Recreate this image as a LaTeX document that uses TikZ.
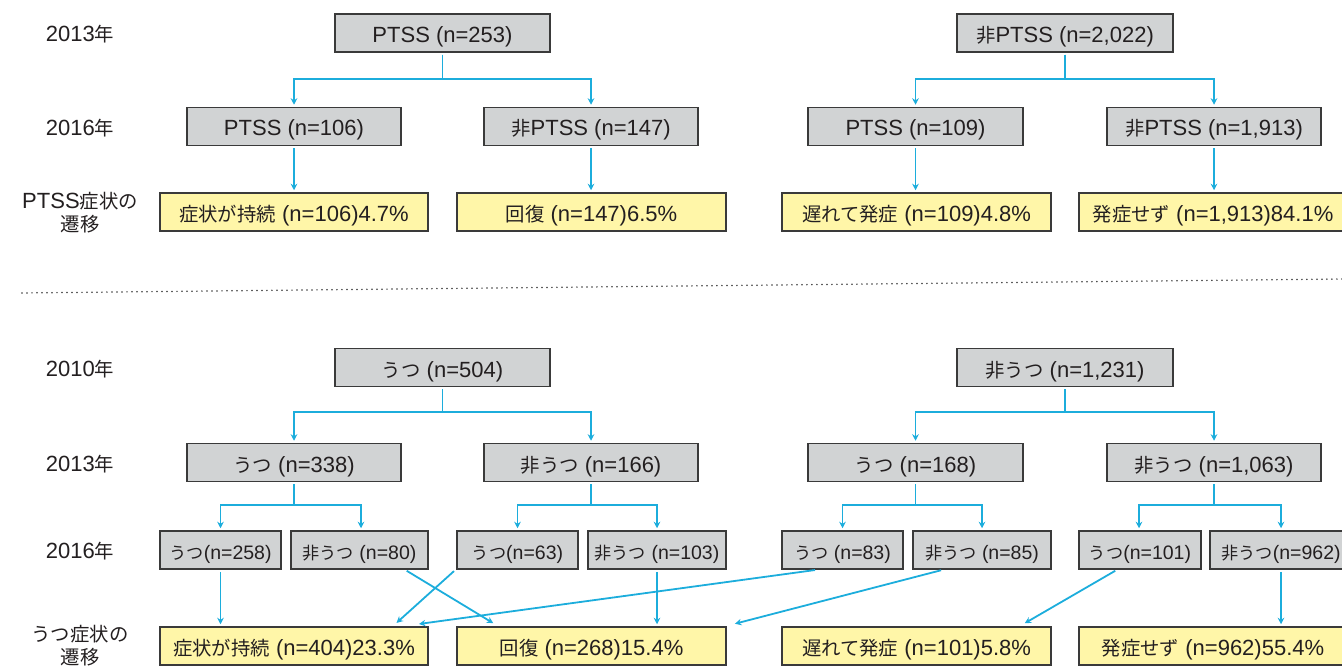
\documentclass[tikz,border=0pt]{standalone}
\usepackage{fontspec}
\setmainfont{Liberation Sans}
\newfontfamily\cjk{Noto Sans CJK JP}[Scale=0.88]
\usetikzlibrary{arrows.meta}
\definecolor{txt}{HTML}{231F20}
\definecolor{gbox}{HTML}{D1D3D4}
\definecolor{ybox}{HTML}{FFF6A8}
\definecolor{edgec}{HTML}{3A3A3A}
\definecolor{cy}{HTML}{1CADDC}
\newcommand\J[1]{{\cjk #1}}
\tikzset{
  gb/.style={draw=edgec, line width=1.5pt, fill=gbox, minimum height=38pt, inner sep=0pt, text=txt, text height=20pt, text depth=1pt, font=\fontsize{22}{24}\selectfont},
  yb/.style={gb, fill=ybox},
  sb/.style={gb, text height=19pt, text depth=1pt, font=\fontsize{19.5}{22}\selectfont},
  lab/.style={text=txt, align=center, inner sep=0pt, font=\fontsize{22}{23}\selectfont},
  conn/.style={draw=cy, line width=1.8pt, -{Stealth[length=6.5pt,width=6.5pt]}, shorten >=2pt, shorten <=2pt},
}
\begin{document}
\begin{tikzpicture}[x=1pt,y=-1pt]
\useasboundingbox (0,0) rectangle (1342,666);
% labels
\node[lab] (l1) at (80,34.5) {2013\J{年}};
\node[lab] (l2) at (80,128) {2016\J{年}};
\node[lab] (l3) at (80,213) {PTSS\J{症状の}\\\J{遷移}};
\node[lab] (l4) at (80,369) {2010\J{年}};
\node[lab] (l5) at (80,464) {2013\J{年}};
\node[lab] (l6) at (80,551.5) {2016\J{年}};
\node[lab] (l7) at (80,646) {\J{うつ症状の}\\\J{遷移}};
% top section
\node[gb, minimum width=215pt] (A0) at (442.5,33) {PTSS (n=253)};
\node[gb, minimum width=216pt] (B0) at (1065,33) {\J{非}PTSS (n=2,022)};
\node[gb, minimum width=214pt] (A1) at (294,126.5) {PTSS (n=106)};
\node[gb, minimum width=214pt] (A2) at (591,126.5) {\J{非}PTSS (n=147)};
\node[gb, minimum width=215pt] (B1) at (915.5,126.5) {PTSS (n=109)};
\node[gb, minimum width=214pt] (B2) at (1214,126.5) {\J{非}PTSS (n=1,913)};
\node[yb, minimum width=268pt] (Y1) at (294,212) {\J{症状が持続} (n=106)4.7\%};
\node[yb, minimum width=269pt] (Y2) at (591.5,212) {\J{回復} (n=147)6.5\%};
\node[yb, minimum width=269pt] (Y3) at (916.5,212) {\J{遅れて発症} (n=109)4.8\%};
\node[yb, minimum width=268pt] (Y4) at (1213,212) {\J{発症せず} (n=1,913)84.1\%};
\draw[conn] (A0.south) -- ++(0,26) -| (A1.north);
\draw[conn] (A0.south) -- ++(0,26) -| (A2.north);
\draw[conn] (B0.south) -- ++(0,26) -| (B1.north);
\draw[conn] (B0.south) -- ++(0,26) -| (B2.north);
\draw[conn] (A1.south) -- (A1.south |- Y1.north);
\draw[conn] (A2.south) -- (A2.south |- Y2.north);
\draw[conn] (B1.south) -- (B1.south |- Y3.north);
\draw[conn] (B2.south) -- (B2.south |- Y4.north);
% separator
\draw[edgec, line width=1.7pt, line cap=round, dash pattern=on 0pt off 5pt] (22,293) -- (1342,279);
% bottom section
\node[gb, minimum width=215pt] (C0) at (442.5,367.5) {\J{うつ} (n=504)};
\node[gb, minimum width=216pt] (D0) at (1065,367.5) {\J{非うつ} (n=1,231)};
\node[gb, minimum width=214pt] (C1) at (294,462.5) {\J{うつ} (n=338)};
\node[gb, minimum width=214pt] (C2) at (591,462.5) {\J{非うつ} (n=166)};
\node[gb, minimum width=215pt] (D1) at (915.5,462.5) {\J{うつ} (n=168)};
\node[gb, minimum width=214pt] (D2) at (1214,462.5) {\J{非うつ} (n=1,063)};
\node[sb, minimum width=121pt] (c11) at (220.5,550) {\J{うつ}(n=258)};
\node[sb, minimum width=137pt] (c12) at (359.5,550) {\J{非うつ} (n=80)};
\node[sb, minimum width=121pt] (c21) at (517.5,550) {\J{うつ}(n=63)};
\node[sb, minimum width=138pt] (c22) at (657,550) {\J{非うつ} (n=103)};
\node[sb, minimum width=121pt] (d11) at (842.5,550) {\J{うつ} (n=83)};
\node[sb, minimum width=138pt] (d12) at (982,550) {\J{非うつ} (n=85)};
\node[sb, minimum width=122pt] (d21) at (1140,550) {\J{うつ}(n=101)};
\node[sb, minimum width=142pt] (d22) at (1281,550) {\J{非うつ}(n=962)};
\node[yb, minimum width=268pt] (Z1) at (294,646) {\J{症状が持続} (n=404)23.3\%};
\node[yb, minimum width=269pt] (Z2) at (591.5,646) {\J{回復} (n=268)15.4\%};
\node[yb, minimum width=269pt] (Z3) at (916.5,646) {\J{遅れて発症} (n=101)5.8\%};
\node[yb, minimum width=268pt] (Z4) at (1213,646) {\J{発症せず} (n=962)55.4\%};
\draw[conn] (C0.south) -- ++(0,25) -| (C1.north);
\draw[conn] (C0.south) -- ++(0,25) -| (C2.north);
\draw[conn] (D0.south) -- ++(0,25) -| (D1.north);
\draw[conn] (D0.south) -- ++(0,25) -| (D2.north);
\draw[conn] (C1.south) -- ++(0,23) -| (c11.north);
\draw[conn] (C1.south) -- ++(0,23) -| ([xshift=1.5pt]c12.north);
\draw[conn] (C2.south) -- ++(0,23) -| (c21.north);
\draw[conn] (C2.south) -- ++(0,23) -| (c22.north);
\draw[conn] (D1.south) -- ++(0,23) -| (d11.north);
\draw[conn] (D1.south) -- ++(0,23) -| (d12.north);
\draw[conn] (D2.south) -- ++(0,23) -| ([xshift=-1pt]d21.north);
\draw[conn] (D2.south) -- ++(0,23) -| (d22.north);
\draw[conn] (c11.south) -- (c11.south |- Z1.north);
\draw[conn] (c22.south) -- (c22.south |- Z2.north);
\draw[conn] (d22.south) -- (d22.south |- Z4.north);
\draw[conn] ([xshift=45.5pt]c12.south) -- ([xshift=-96.5pt,yshift=2pt]Z2.north);
\draw[conn] ([xshift=-62pt]c21.south) -- ([xshift=101pt,yshift=2pt]Z1.north);
\draw[conn] ([xshift=-25.5pt]d11.south) -- ([xshift=123pt,yshift=2pt]Z1.north);
\draw[conn] ([xshift=-39pt]d12.south) -- ([xshift=141.5pt,yshift=2pt]Z2.north);
\draw[conn] ([xshift=-23pt]d21.south) -- ([xshift=106.5pt,yshift=2pt]Z3.north);
\end{tikzpicture}
\end{document}
